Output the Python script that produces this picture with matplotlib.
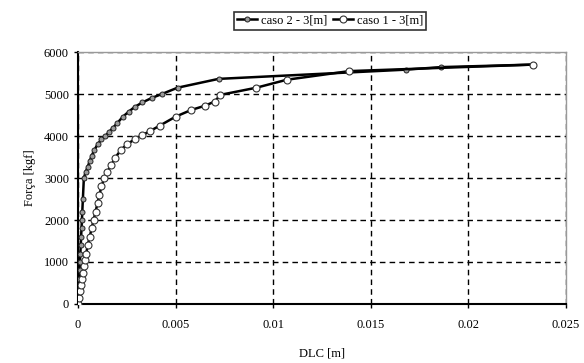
import matplotlib
matplotlib.use("Agg")
import matplotlib.pyplot as plt
from matplotlib.ticker import FuncFormatter

plt.rcParams['font.family'] = ['Liberation Serif', 'DejaVu Serif']

# caso 2 - 3[m]
dlc_caso2 = [0.0, 0.00002, 0.00004, 0.00006, 0.00008, 0.0001, 0.00012, 0.00014,
             0.00016, 0.00018, 0.0002, 0.00022, 0.00025, 0.0003, 0.0004, 0.0005,
             0.0006, 0.0007, 0.00084, 0.001, 0.0012, 0.0014, 0.0016, 0.0018,
             0.002, 0.0023, 0.0026, 0.0029, 0.0033, 0.0038, 0.0043, 0.0051,
             0.0072, 0.0168, 0.0186, 0.0233]
forca_caso2 = [0, 200, 400, 600, 800, 1000, 1200, 1400,
               1600, 1800, 2000, 2200, 2500, 3000, 3150, 3270,
               3400, 3530, 3667, 3800, 3920, 4000, 4100, 4200,
               4300, 4460, 4580, 4690, 4800, 4910, 5000, 5150,
               5360, 5580, 5640, 5700]

# caso 1 - 3[m]
dlc_caso1 = [0.0, 0.00005, 0.0001, 0.00015, 0.0002, 0.00025, 0.0003, 0.00035,
             0.00042, 0.0005, 0.0006, 0.0007, 0.0008, 0.0009, 0.001, 0.0011,
             0.0012, 0.00135, 0.0015, 0.0017, 0.0019, 0.0022, 0.0025, 0.0029,
             0.0033, 0.0037, 0.0042, 0.0050, 0.0058, 0.0065, 0.007, 0.0073,
             0.00914, 0.0107, 0.0139, 0.0233]
forca_caso1 = [0, 150, 300, 450, 600, 750, 900, 1050,
               1200, 1400, 1600, 1800, 2000, 2200, 2400, 2600,
               2800, 3000, 3150, 3300, 3480, 3667, 3800, 3920,
               4020, 4120, 4250, 4460, 4620, 4720, 4820, 4980,
               5150, 5340, 5545, 5700]

x_ticks = [0, 0.005, 0.01, 0.015, 0.02, 0.025]
y_ticks = [0, 1000, 2000, 3000, 4000, 5000, 6000]

fig = plt.figure(figsize=(5.84, 3.63), dpi=100)
ax = fig.add_axes([78/584, 1-304/363, (566-78)/584, (304-52)/363])

ax.plot(dlc_caso2, forca_caso2, color='black', lw=1.8, marker='o', ms=3.6,
        mfc='#9a9a9a', mec='#222222', mew=0.7, label='caso 2 - 3[m]', zorder=3)
ax.plot(dlc_caso1, forca_caso1, color='black', lw=1.8, marker='o', ms=5,
        mfc='white', mec='#333333', mew=0.8, label='caso 1 - 3[m]', zorder=4)

ax.set_xlim(0, 0.025)
ax.set_ylim(0, 6000)
ax.set_xticks(x_ticks)
ax.set_yticks(y_ticks)
ax.xaxis.set_major_formatter(FuncFormatter(lambda v, p: '0' if v == 0 else ('%g' % v)))
ax.grid(True, color='black', linestyle=(0, (4, 3)), linewidth=1.0)
ax.set_axisbelow(True)

for s in ['top', 'right']:
    ax.spines[s].set_color('#999999')
    ax.spines[s].set_linewidth(1.0)
for s in ['left', 'bottom']:
    ax.spines[s].set_color('black')
    ax.spines[s].set_linewidth(1.5)

ax.tick_params(axis='both', labelsize=9, direction='out', length=3, width=1, colors='black')
ax.tick_params(axis='x', pad=8)

ax.set_xlabel('DLC [m]', fontsize=9, labelpad=12)
ax.set_ylabel('Força [kgf]', fontsize=9, labelpad=6)

leg = fig.legend(loc='upper center', bbox_to_anchor=(0.565, 0.985), ncol=2,
                 fontsize=9, frameon=True, fancybox=False, edgecolor='black',
                 handlelength=1.6, handletextpad=0.3, columnspacing=0.5,
                 borderpad=0.25)
leg.get_frame().set_linewidth(1.2)

fig.savefig('out.png', dpi=100)
